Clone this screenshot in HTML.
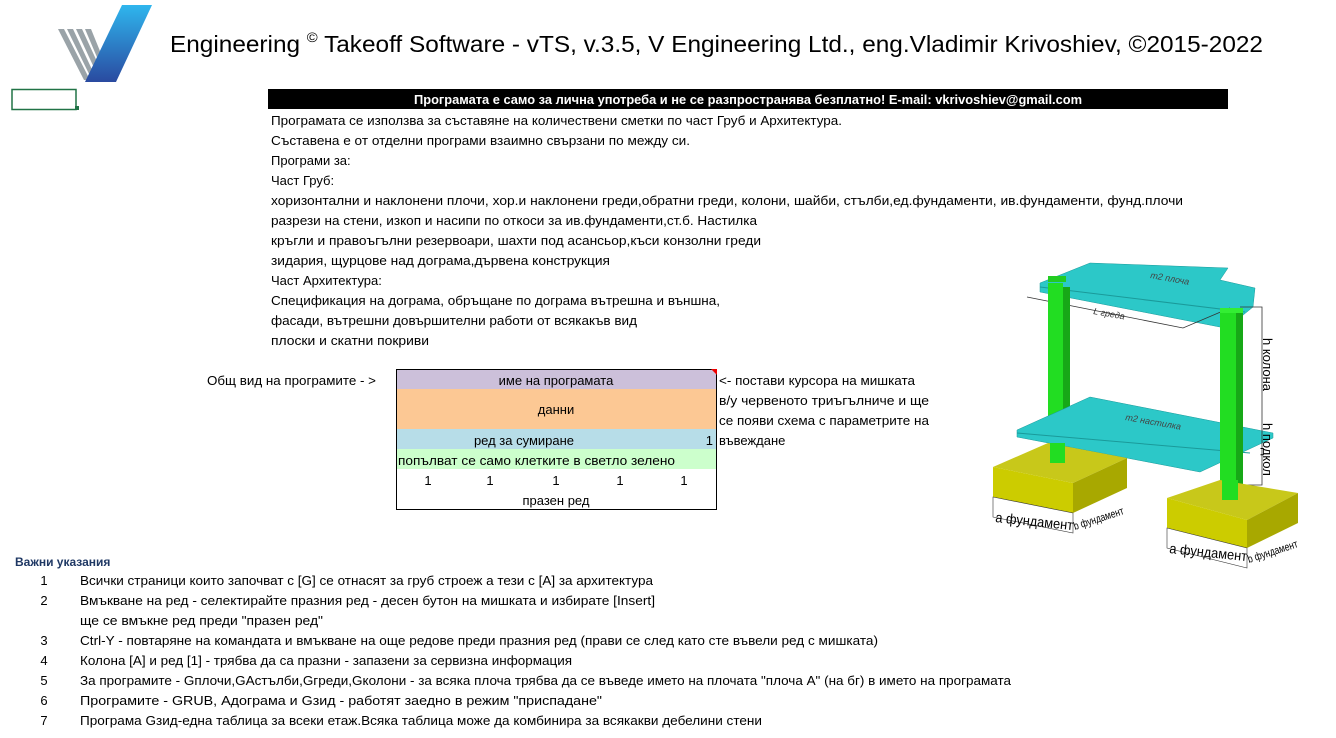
<!DOCTYPE html>
<html><head><meta charset="utf-8"><style>
html,body{margin:0;padding:0;background:#fff;}
svg text{font-family:"Liberation Sans",sans-serif;font-size:13px;fill:#000;}
</style></head><body>
<svg width="1336" height="733" viewBox="0 0 1336 733" xmlns="http://www.w3.org/2000/svg">
<defs>
<linearGradient id="lg" x1="0" y1="0" x2="0" y2="1"><stop offset="0" stop-color="#2fb6ee"/><stop offset="1" stop-color="#2a4aa0"/></linearGradient>
</defs>
<g>
<polygon points="58,29 64,29 90,80 84,80" fill="#9aa3a8"/>
<polygon points="67,29 73,29 96,78 91,78" fill="#9aa3a8"/>
<polygon points="76,29 82,29 100,68 96,72" fill="#9aa3a8"/>
<polygon points="85,29 91,29 102,56 99,62" fill="#9aa3a8"/>
<polygon points="122,5 152,5 116,82 85,82" fill="url(#lg)"/>
</g>
<text x="170" y="52" style="font-size:23px" textLength="1093" lengthAdjust="spacingAndGlyphs">Engineering <tspan dy="-10" style="font-size:14px">©</tspan><tspan dy="10"> Takeoff Software - vTS, v.3.5, V Engineering Ltd., eng.Vladimir Krivoshiev, ©2015-2022</tspan></text>
<rect x="12" y="89.5" width="64" height="20" fill="none" stroke="#217346" stroke-width="1.5"/>
<rect x="75" y="106" width="4" height="4" fill="#217346"/>
<rect x="268" y="89" width="960" height="20" fill="#000"/>
<text x="748" y="104" text-anchor="middle" style="font-weight:bold;fill:#fff" textLength="668" lengthAdjust="spacingAndGlyphs">Програмата е само за лична употреба и не се разпространява безплатно!  E-mail: vkrivoshiev@gmail.com</text>
<g>
<text x="271" y="125" textLength="571" lengthAdjust="spacingAndGlyphs">Програмата се използва за съставяне на количествени сметки по част Груб и Архитектура.</text>
<text x="271" y="145" textLength="419" lengthAdjust="spacingAndGlyphs">Съставена е от отделни програми взаимно свързани по между си.</text>
<text x="271" y="165">Програми за:</text>
<text x="271" y="185">Част Груб:</text>
<text x="271" y="205" textLength="912" lengthAdjust="spacingAndGlyphs">хоризонтални и наклонени плочи, хор.и наклонени греди,обратни греди, колони, шайби, стълби,ед.фундаменти, ив.фундаменти, фунд.плочи</text>
<text x="271" y="225" textLength="486" lengthAdjust="spacingAndGlyphs">разрези на стени, изкоп и насипи по откоси за ив.фундаменти,ст.б. Настилка</text>
<text x="271" y="245" textLength="490" lengthAdjust="spacingAndGlyphs">кръгли и правоъгълни резервоари, шахти под асансьор,къси конзолни греди</text>
<text x="271" y="265" textLength="339" lengthAdjust="spacingAndGlyphs">зидария, щурцове над дограма,дървена конструкция</text>
<text x="271" y="285">Част Архитектура:</text>
<text x="271" y="305" textLength="449" lengthAdjust="spacingAndGlyphs">Спецификация на дограма, обръщане по дограма вътрешна и външна,</text>
<text x="271" y="325" textLength="366" lengthAdjust="spacingAndGlyphs">фасади, вътрешни довършителни работи от всякакъв вид</text>
<text x="271" y="345" textLength="158" lengthAdjust="spacingAndGlyphs">плоски и скатни покриви</text>
</g>
<text x="207" y="385" textLength="169" lengthAdjust="spacingAndGlyphs">Общ вид на програмите - &gt;</text>
<rect x="396" y="369" width="321" height="20" fill="#ccc0da"/>
<rect x="396" y="389" width="321" height="40" fill="#fcc894"/>
<rect x="396" y="429" width="321" height="20" fill="#b7dde8"/>
<rect x="396" y="449" width="321" height="20" fill="#ccffcc"/>
<rect x="396.5" y="369.5" width="320" height="140" fill="none" stroke="#000" stroke-width="1"/>
<polygon points="711,369 717,369 717,375" fill="#e00"/>
<text x="556" y="385" text-anchor="middle">име на програмата</text>
<text x="556" y="414" text-anchor="middle">данни</text>
<text x="524" y="445" text-anchor="middle">ред за сумиране</text>
<text x="713" y="445" text-anchor="end">1</text>
<text x="398" y="465" textLength="277" lengthAdjust="spacingAndGlyphs">попълват се само клетките в светло зелено</text>
<text x="428" y="485" text-anchor="middle">1</text>
<text x="490" y="485" text-anchor="middle">1</text>
<text x="556" y="485" text-anchor="middle">1</text>
<text x="620" y="485" text-anchor="middle">1</text>
<text x="684" y="485" text-anchor="middle">1</text>
<text x="556" y="505" text-anchor="middle">празен ред</text>
<text x="719" y="385" textLength="196" lengthAdjust="spacingAndGlyphs">&lt;- постави курсора на мишката</text>
<text x="719" y="405" textLength="210" lengthAdjust="spacingAndGlyphs">в/у червеното триъгълниче и ще</text>
<text x="719" y="425" textLength="210" lengthAdjust="spacingAndGlyphs">се появи схема с параметрите на</text>
<text x="719" y="445">въвеждане</text>
<g>
<polygon points="1040,283 1090,263 1228,268 1220,280 1255,288 1253,307 1237,320 1225,328 1040,292" fill="#2cc8c8" stroke="#1a9a9a" stroke-width="0.5"/>
<line x1="1040" y1="287" x2="1245" y2="312" stroke="#1a9a9a"/>
<rect x="1048" y="276" width="18" height="6" fill="#22cc22"/>
<text x="1150" y="278" style="font-size:9px;font-style:italic;fill:#444" transform="rotate(10 1150 278)">m2 плоча</text>
<polyline points="1027,297 1183,328 1230,308" fill="none" stroke="#333" stroke-width="0.8"/>
<text x="1093" y="314" style="font-size:9px;font-style:italic;fill:#333" transform="rotate(10 1093 314)">L греда</text>
<rect x="1048" y="283" width="15" height="180" fill="#22dd22"/>
<rect x="1063" y="287" width="7" height="176" fill="#17a817"/>
<polygon points="1017,430 1090,397 1273,433 1273,438 1200,472 1017,437" fill="#2cc8c8" stroke="#1a9a9a" stroke-width="0.5"/>
<line x1="1017" y1="433" x2="1250" y2="453" stroke="#1a9a9a"/>
<text x="1125" y="420" style="font-size:9px;font-style:italic;fill:#444" transform="rotate(10 1125 420)">m2 настилка</text>
<polygon points="993,467 1048,443 1127,458 1073,483" fill="#c8c81a"/>
<polygon points="993,467 1073,483 1073,513 993,497" fill="#cccc00"/>
<polygon points="1073,483 1127,458 1127,488 1073,513" fill="#a8a800"/>
<rect x="1050" y="443" width="15" height="20" fill="#22dd22"/>
<polygon points="993,497 1073,513 1073,533 993,517" fill="#fff" stroke="#333" stroke-width="0.6"/>
<text x="995" y="522" style="font-size:14px" transform="rotate(6 995 522)" textLength="78" lengthAdjust="spacingAndGlyphs">а фундамент</text>
<text x="1075" y="530" style="font-size:11px" transform="rotate(-18 1075 530)" textLength="52" lengthAdjust="spacingAndGlyphs">b фундамент</text>
<rect x="1220" y="313" width="16" height="185" fill="#22dd22"/>
<rect x="1236" y="310" width="7" height="186" fill="#17a817"/>
<rect x="1220" y="308" width="23" height="5" fill="#33ee33"/>
<polyline points="1240,307 1262,307 1262,485 1240,485" fill="none" stroke="#333" stroke-width="0.8"/>
<text x="1263" y="338" style="font-size:13px" transform="rotate(90 1263 338)">h колона</text>
<text x="1263" y="423" style="font-size:13px" transform="rotate(90 1263 423)">h подкол</text>
<polygon points="1167,498 1220,480 1298,493 1247,520" fill="#c8c81a"/>
<polygon points="1167,498 1247,520 1247,548 1167,528" fill="#cccc00"/>
<polygon points="1247,520 1298,493 1298,523 1247,548" fill="#a8a800"/>
<rect x="1222" y="480" width="16" height="20" fill="#22dd22"/>
<polygon points="1167,528 1247,548 1247,568 1167,548" fill="#fff" stroke="#333" stroke-width="0.6"/>
<text x="1169" y="553" style="font-size:14px" transform="rotate(6 1169 553)" textLength="78" lengthAdjust="spacingAndGlyphs">а фундамент</text>
<text x="1249" y="563" style="font-size:11px" transform="rotate(-18 1249 563)" textLength="52" lengthAdjust="spacingAndGlyphs">b фундамент</text>
</g>
<text x="15" y="566" style="font-weight:bold;fill:#1f3864;font-size:12px">Важни указания</text>
<g>
<text x="44" y="585" text-anchor="middle">1</text>
<text x="80" y="585" textLength="573" lengthAdjust="spacingAndGlyphs">Всички страници които започват с [G] се отнасят за груб строеж а тези с  [A] за архитектура</text>
<text x="44" y="605" text-anchor="middle">2</text>
<text x="80" y="605" textLength="575" lengthAdjust="spacingAndGlyphs">Вмъкване на ред - селектирайте празния ред - десен бутон на мишката и избирате [Insert]</text>
<text x="80" y="625" textLength="243" lengthAdjust="spacingAndGlyphs">ще се вмъкне ред преди "празен ред"</text>
<text x="44" y="645" text-anchor="middle">3</text>
<text x="80" y="645" textLength="798" lengthAdjust="spacingAndGlyphs">Ctrl-Y - повтаряне на командата и вмъкване на още редове преди празния ред (прави се след като сте въвели ред с мишката)</text>
<text x="44" y="665" text-anchor="middle">4</text>
<text x="80" y="665" textLength="492" lengthAdjust="spacingAndGlyphs">Колона [A] и ред [1] - трябва да са празни - запазени за сервизна информация</text>
<text x="44" y="685" text-anchor="middle">5</text>
<text x="80" y="685" textLength="931" lengthAdjust="spacingAndGlyphs">За програмите - Gплочи,GAстълби,Gгреди,Gколони - за всяка плоча трябва да се въведе името на плочата "плоча А" (на бг) в името на програмата</text>
<text x="44" y="705" text-anchor="middle">6</text>
<text x="80" y="705" textLength="522" lengthAdjust="spacingAndGlyphs">Програмите - GRUB,  Адограма и Gзид - работят заедно в режим "приспадане"</text>
<text x="44" y="725" text-anchor="middle">7</text>
<text x="80" y="725" textLength="682" lengthAdjust="spacingAndGlyphs">Програма Gзид-една таблица за всеки етаж.Всяка таблица може да комбинира за всякакви дебелини стени</text>
</g>
</svg>
</body></html>
